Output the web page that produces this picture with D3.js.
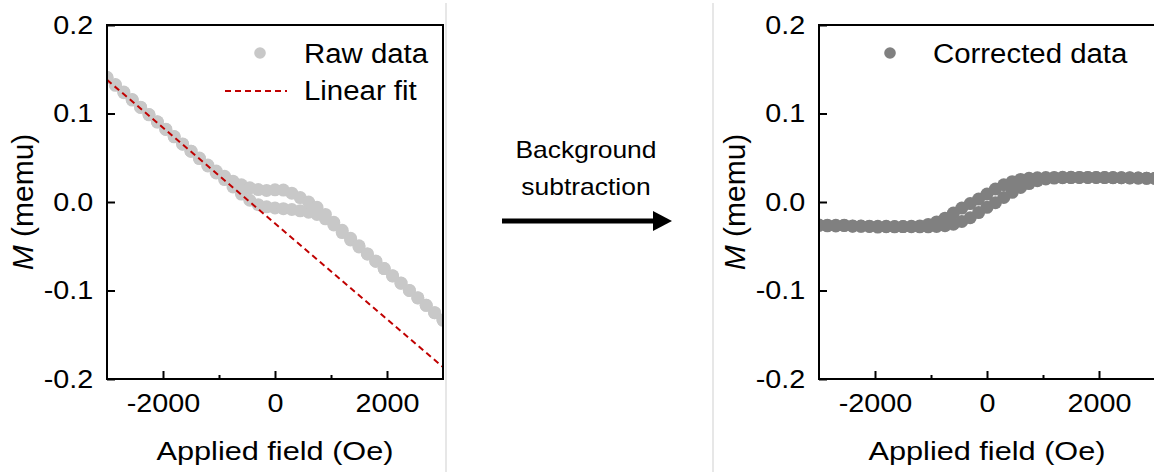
<!DOCTYPE html>
<html><head><meta charset="utf-8">
<script src="https://cdn.jsdelivr.net/npm/d3@7"></script>
<style>
body{margin:0;background:#fff}
svg{display:block}
text{font-family:"Liberation Sans",Arial,sans-serif;fill:#000}
</style>
</head><body>
<svg id="c" width="1154" height="472"></svg>
<script>
// ---- data ----
const fieldOe = [-3000,-2850,-2700,-2550,-2400,-2250,-2100,-1950,-1800,-1650,-1500,-1350,-1200,-1050,-900,-750,-600,-450,-300,-150,0,150,300,450,600,750,900,1050,1200,1350,1500,1650,1800,1950,2100,2250,2400,2550,2700,2850,3000];
const rawUpper = [0.1404,0.1318,0.1235,0.1152,0.1069,0.0985,0.0903,0.0819,0.0736,0.0653,0.0574,0.0496,0.0418,0.0350,0.0290,0.0235,0.0195,0.0160,0.0140,0.0130,0.0138,0.0135,0.0100,0.0050,0.0000,-0.0060,-0.0140,-0.0230,-0.0320,-0.0410,-0.0495,-0.0587,-0.0669,-0.0752,-0.0835,-0.0917,-0.1000,-0.1084,-0.1168,-0.1251,-0.1334];
const rawLower = [0.1409,0.1327,0.1243,0.1158,0.1072,0.0989,0.0906,0.0823,0.0740,0.0656,0.0574,0.0491,0.0408,0.0329,0.0253,0.0170,0.0090,0.0020,-0.0030,-0.0055,-0.0068,-0.0075,-0.0085,-0.0100,-0.0115,-0.0140,-0.0190,-0.0260,-0.0345,-0.0428,-0.0508,-0.0587,-0.0669,-0.0752,-0.0834,-0.0916,-0.0999,-0.1083,-0.1167,-0.1250,-0.1334];
const corrUpper = [-0.0265,-0.0269,-0.0271,-0.0262,-0.0273,-0.0275,-0.0276,-0.0283,-0.0279,-0.0280,-0.0278,-0.0274,-0.0270,-0.0253,-0.0225,-0.0183,-0.0125,-0.0069,-0.0018,0.0033,0.0090,0.0147,0.0195,0.0230,0.0255,0.0268,0.0273,0.0276,0.0278,0.0279,0.0279,0.0278,0.0278,0.0277,0.0276,0.0275,0.0274,0.0272,0.0270,0.0268,0.0267];
const corrLower = [-0.0260,-0.0262,-0.0263,-0.0266,-0.0270,-0.0271,-0.0273,-0.0274,-0.0275,-0.0277,-0.0278,-0.0279,-0.0280,-0.0280,-0.0276,-0.0268,-0.0250,-0.0220,-0.0178,-0.0120,-0.0060,-0.0008,0.0052,0.0109,0.0165,0.0208,0.0240,0.0260,0.0270,0.0274,0.0276,0.0278,0.0278,0.0277,0.0277,0.0276,0.0275,0.0273,0.0271,0.0269,0.0267];
const fitField = [-3000, 3000];
const fitM = [0.138, -0.1865];
const xMajorTicks = [-2000, 0, 2000];
const xMinorTicks = [-1000, 1000];
const yTicks = [-0.2, -0.1, 0.0, 0.1, 0.2];
const xTitle = "Applied field (Oe)";
const legendRaw = ["Raw data", "Linear fit"];
const legendCorr = ["Corrected data"];
const arrowText = ["Background", "subtraction"];

const svg = d3.select("#c");
const TOP = 25, BOT = 379;
const SX = 1.15;
const FONT = '"Liberation Sans",Arial,sans-serif';
const R_PT = 6.5;

function stretchText(g, x, y, str, size, anchor, sx) {
  return g.append("text")
    .attr("transform", `translate(${x},${y}) scale(${sx},1)`)
    .attr("text-anchor", anchor)
    .style("font-size", size + "px")
    .text(str);
}

function panel(id, left, right, series, color, fit) {
  const g = svg.append("g");
  const x = d3.scaleLinear().domain([-3000, 3000]).range([left, right]);
  const y = d3.scaleLinear().domain([-0.2, 0.2]).range([BOT, TOP]);

  g.append("clipPath").attr("id", "clip" + id)
    .append("rect").attr("x", left).attr("y", TOP).attr("width", right - left).attr("height", BOT - TOP);

  const plot = g.append("g").attr("clip-path", `url(#clip${id})`);
  series.forEach(vals => {
    plot.selectAll(null).data(fieldOe.map((h, i) => [h, vals[i]])).enter()
      .append("circle")
      .attr("cx", d => x(d[0])).attr("cy", d => y(d[1]))
      .attr("r", R_PT).attr("fill", color);
  });
  if (fit) {
    plot.append("path")
      .datum(fitField.map((h, i) => [h, fitM[i]]))
      .attr("d", d3.line().x(d => x(d[0])).y(d => y(d[1])))
      .attr("fill", "none").attr("stroke", "#c00000").attr("stroke-width", 2)
      .attr("stroke-dasharray", "6,4");
  }

  const xa = g.append("g").attr("transform", `translate(0,${BOT})`)
    .call(d3.axisBottom(x).tickValues(xMajorTicks).tickSize(-8).tickPadding(15).tickFormat(d => String(d)));
  xa.select(".domain").remove();
  xa.selectAll("line").attr("stroke-width", 2);
  xa.selectAll("text").attr("transform", `scale(${SX},1)`).style("font-size", "25px").style("font-family", FONT);

  const xm = g.append("g").attr("transform", `translate(0,${BOT})`)
    .call(d3.axisBottom(x).tickValues(xMinorTicks).tickSize(-4).tickFormat(""));
  xm.select(".domain").remove();
  xm.selectAll("line").attr("stroke-width", 2);

  const ya = g.append("g").attr("transform", `translate(${left},0)`)
    .call(d3.axisLeft(y).tickValues(yTicks).tickSize(-8).tickPadding(12).tickFormat(d => d.toFixed(1)));
  ya.select(".domain").remove();
  ya.selectAll("line").attr("stroke-width", 2);
  ya.selectAll("text").attr("transform", `scale(${SX},1)`).style("font-size", "25px").style("font-family", FONT);

  g.append("rect").attr("x", left).attr("y", TOP).attr("width", right - left).attr("height", BOT - TOP)
    .attr("fill", "none").attr("stroke", "#000").attr("stroke-width", 2);

  stretchText(g, (left + right) / 2, 460, xTitle, 26, "middle", 1.18);
  const yt = g.append("text")
    .attr("transform", `translate(${left - 74},${(TOP + BOT) / 2}) rotate(-90)`)
    .attr("text-anchor", "middle").style("font-size", "30px");
  yt.append("tspan").style("font-style", "italic").text("M");
  yt.append("tspan").text(" (memu)");
  return {g, x, y};
}

svg.append("line").attr("x1", 446).attr("x2", 446).attr("y1", 3).attr("y2", 472).attr("stroke", "#cfcfcf").attr("stroke-width", 1);
svg.append("line").attr("x1", 713).attr("x2", 713).attr("y1", 3).attr("y2", 472).attr("stroke", "#cfcfcf").attr("stroke-width", 1);

const L = panel("L", 107, 443, [rawLower, rawUpper], "#c8c8c8", true);
const R = panel("R", 819, 1155, [corrLower, corrUpper], "#808080", false);

L.g.append("circle").attr("cx", 260).attr("cy", 53).attr("r", 5.8).attr("fill", "#c8c8c8");
stretchText(L.g, 304, 63, legendRaw[0], 28, "start", 1.05);
L.g.append("line").attr("x1", 225).attr("x2", 287).attr("y1", 91).attr("y2", 91)
  .attr("stroke", "#c00000").attr("stroke-width", 2).attr("stroke-dasharray", "6,4");
stretchText(L.g, 304, 100, legendRaw[1], 28, "start", 1.05);

R.g.append("circle").attr("cx", 890).attr("cy", 53).attr("r", 5.8).attr("fill", "#808080");
stretchText(R.g, 933, 63, legendCorr[0], 28, "start", 1.05);

stretchText(svg, 586, 158, arrowText[0], 23, "middle", 1.15);
stretchText(svg, 586, 195, arrowText[1], 23, "middle", 1.15);
svg.append("line").attr("x1", 502).attr("x2", 656).attr("y1", 221).attr("y2", 221).attr("stroke", "#000").attr("stroke-width", 5);
svg.append("path").attr("d", "M653,211 L672,221 L653,231 Z").attr("fill", "#000");
</script>
</body></html>
